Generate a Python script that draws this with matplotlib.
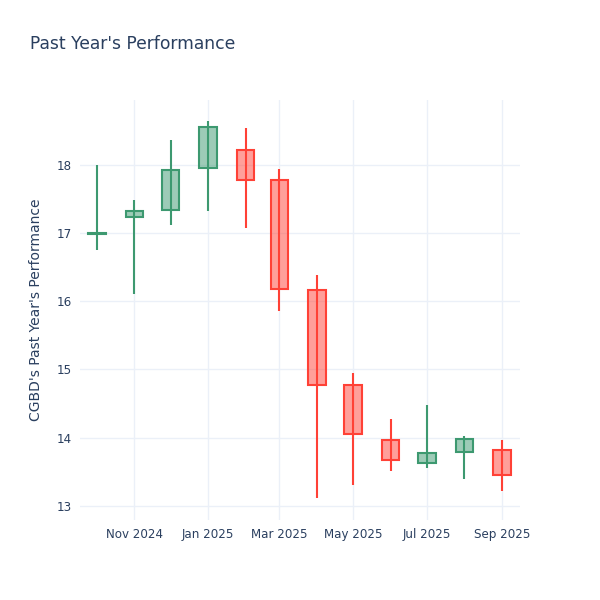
import pandas as pd
import matplotlib
matplotlib.use("Agg")
import matplotlib.pyplot as plt
import matplotlib.dates as mdates

plt.rcParams['font.family'] = ['DejaVu Sans']

# monthly candles
fechas = pd.date_range('2024-10-01', periods=12, freq='MS')
apertura = [16.98, 17.23, 17.33, 17.95, 18.21, 17.77, 16.16, 14.77, 13.97, 13.63, 13.79, 13.82]
maximo = [17.99, 17.48, 18.36, 18.64, 18.53, 17.93, 16.38, 14.95, 14.27, 14.48, 14.02, 13.97]
minimo = [16.75, 16.10, 17.11, 17.32, 17.07, 15.86, 13.12, 13.31, 13.51, 13.56, 13.40, 13.22]
cierre = [17.00, 17.32, 17.92, 18.55, 17.77, 16.18, 14.77, 14.05, 13.67, 13.78, 13.98, 13.45]

verde = '#3D9970'
rojo = '#FF4136'
texto = '#2a3f5f'
rejilla = '#EBF0F8'

fig = plt.figure(figsize=(6, 6), dpi=100)
ax = fig.add_axes([80 / 600, 80 / 600, 440 / 600, 420 / 600])

x = mdates.date2num(fechas)
ancho = 14.5
for xi, o, h, l, c in zip(x, apertura, maximo, minimo, cierre):
    color = verde if c >= o else rojo
    ax.vlines(xi, l, h, color=color, linewidth=1.5, zorder=2)
    abajo = min(o, c)
    alto = max(abs(c - o), 0.02)
    ax.bar(xi, alto, width=ancho, bottom=abajo, color=color, alpha=0.5, zorder=3)
    ax.bar(xi, alto, width=ancho, bottom=abajo, facecolor='none', edgecolor=color,
           linewidth=1.5, zorder=4)

ax.set_xlim(mdates.date2num(pd.Timestamp('2024-09-17')), mdates.date2num(pd.Timestamp('2025-09-16')))
ax.set_ylim(12.795, 18.945)

ax.xaxis.set_major_locator(mdates.MonthLocator(bymonth=[1, 3, 5, 7, 9, 11]))
ax.xaxis.set_major_formatter(mdates.DateFormatter('%b %Y'))
ax.set_yticks([13, 14, 15, 16, 17, 18])

ax.grid(True, color=rejilla, linewidth=1, zorder=0)
ax.set_axisbelow(True)
for s in ax.spines.values():
    s.set_visible(False)
ax.tick_params(length=0, labelsize=8.6, colors=texto, pad=6)

ax.set_ylabel("CGBD's Past Year's Performance", fontsize=10, color=texto, labelpad=10)
fig.text(30 / 600, 1 - 44 / 600, "Past Year's Performance", fontsize=12.3, color=texto,
         ha='left', va='center')

fig.savefig('out.png', dpi=100, facecolor='white')
